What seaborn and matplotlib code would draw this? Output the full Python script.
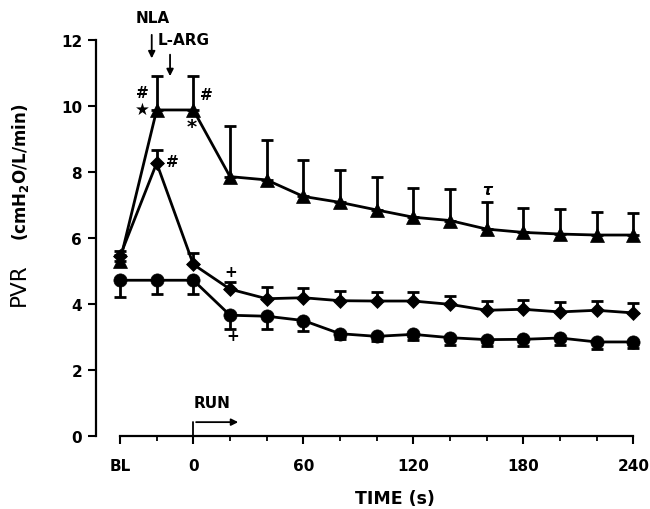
import matplotlib
matplotlib.use("Agg")
import matplotlib.pyplot as plt
import seaborn as sns
import pandas as pd

# ---- data ----
times = [-40, -20, 0, 20, 40, 60, 80, 100, 120, 140, 160, 180, 200, 220, 240]
tri = [5.30, 9.88, 9.88, 7.86, 7.76, 7.26, 7.08, 6.85, 6.63, 6.53, 6.27, 6.17, 6.12, 6.09, 6.09]
tri_err = [0.20, 1.02, 1.02, 1.52, 1.20, 1.11, 0.98, 1.01, 0.88, 0.96, 0.83, 0.75, 0.75, 0.69, 0.66]
dia = [5.45, 8.27, 5.20, 4.45, 4.16, 4.19, 4.10, 4.09, 4.09, 3.99, 3.81, 3.84, 3.76, 3.81, 3.73]
dia_err = [0.15, 0.40, 0.36, 0.22, 0.36, 0.28, 0.30, 0.28, 0.28, 0.26, 0.28, 0.27, 0.30, 0.27, 0.31]
cir = [4.72, 4.72, 4.72, 3.66, 3.63, 3.50, 3.10, 3.02, 3.08, 2.98, 2.92, 2.93, 2.97, 2.85, 2.85]
cir_err = [0.50, 0.43, 0.43, 0.43, 0.39, 0.32, 0.15, 0.15, 0.18, 0.23, 0.20, 0.20, 0.22, 0.20, 0.19]

xtick_pos = [-40, 0, 60, 120, 180, 240]
xtick_labels = ["BL", "0", "60", "120", "180", "240"]
minor_pos = [-20, 20, 40, 80, 100, 140, 160, 200, 220]
ytick_pos = [0, 2, 4, 6, 8, 10, 12]

sns.set_style("ticks")
plt.rcParams["font.family"] = ["DejaVu Sans"]
for key in ("text.color", "axes.labelcolor", "xtick.color", "ytick.color",
            "axes.edgecolor"):
    plt.rcParams[key] = "black"

fig = plt.figure(figsize=(6.5, 5.1), dpi=100)
ax = fig.add_axes([96 / 650, 73 / 510, 549 / 650, 396 / 510])

df = pd.concat([
    pd.DataFrame({"t": times, "v": tri, "e": tri_err, "g": "tri"}),
    pd.DataFrame({"t": times, "v": dia, "e": dia_err, "g": "dia"}),
    pd.DataFrame({"t": times, "v": cir, "e": cir_err, "g": "cir"}),
])

lw = 2.0
# error bars: upward for triangle/diamond, downward for circle
for g, direction in [("tri", "up"), ("dia", "up"), ("cir", "down")]:
    d = df[df.g == g]
    zeros = [0] * len(d)
    yerr = [zeros, list(d.e)] if direction == "up" else [list(d.e), zeros]
    ax.errorbar(d.t, d.v, yerr=yerr, fmt="none", ecolor="black",
                elinewidth=lw, capsize=4.4, capthick=lw, zorder=2, clip_on=False)

styles = {"tri": ("^", 10), "dia": ("D", 7.5), "cir": ("o", 9.5)}
for g, (m, ms) in styles.items():
    sns.lineplot(data=df[df.g == g], x="t", y="v", ax=ax, color="black",
                 marker=m, markersize=ms, markeredgecolor="black",
                 markeredgewidth=0.5, linewidth=lw, estimator=None, sort=False,
                 legend=False, zorder=3, clip_on=False)

ax.set_xlim(-53.1, 246.4)
ax.set_ylim(0, 12)
sns.despine(ax=ax)
ax.spines["left"].set_bounds(0, 12)
ax.spines["bottom"].set_bounds(-40, 240)
for s in ("left", "bottom"):
    ax.spines[s].set_linewidth(1.6)
    ax.spines[s].set_color("black")

ax.set_yticks(ytick_pos)
ax.set_yticklabels([str(v) for v in ytick_pos], fontsize=11, fontweight="bold")
ax.set_xticks(xtick_pos)
ax.set_xticklabels(xtick_labels, fontsize=11, fontweight="bold")
ax.set_xticks(minor_pos, minor=True)
ax.tick_params(axis="y", length=6, width=1.5, pad=4, colors="black")
ax.tick_params(axis="x", which="major", length=6, width=1.5, pad=10, colors="black")
ax.tick_params(axis="x", which="minor", length=3.6, width=1.3, colors="black")

ax.set_xlabel("TIME (s)", fontsize=12.5, fontweight="bold", color="black")
ax.xaxis.set_label_coords((395 - 96) / 549, -(490 - 437) / 396)
ax.set_ylabel("")

# y label in two parts
fig.text(19 / 650, 1 - 285 / 510, "PVR", rotation=90, fontsize=15.5,
         fontweight="medium", ha="center", va="center", color="black")
fig.text(21 / 650, 1 - 172 / 510, "(cmH$_\\mathbf{2}$O/L/min)", rotation=90,
         fontsize=12, fontweight="bold", ha="center", va="center", color="black")

# drug annotations
arrow_kw = dict(arrowstyle="-|>", color="black", lw=1.3, mutation_scale=10)
ax.annotate("", xy=(-22.7, 11.36), xytext=(-22.7, 12.24),
            arrowprops=arrow_kw, annotation_clip=False)
ax.annotate("", xy=(-12.7, 10.82), xytext=(-12.7, 11.64),
            arrowprops=arrow_kw, annotation_clip=False)
ax.text(-22.3, 12.67, "NLA", fontsize=11, fontweight="bold",
        ha="center", va="center", clip_on=False)
ax.text(-19.3, 12.03, "L-ARG", fontsize=11, fontweight="bold",
        ha="left", va="center", clip_on=False)

# RUN marker
ax.plot([0, 0], [0, 0.42], color="black", lw=1.3, clip_on=False)
ax.annotate("", xy=(26, 0.42), xytext=(0, 0.42),
            arrowprops=arrow_kw, annotation_clip=False)
ax.text(10, 1.0, "RUN", fontsize=11, fontweight="bold", ha="center", va="center")

# significance symbols (offsets in points from the data points)
i_m20 = times.index(-20)
i_0 = times.index(0)
i_20 = times.index(20)
i_160 = times.index(160)
k = 1 / 1.389
marks = [
    ("#", -20, tri[i_m20], -14 * k, 17.7 * k, {}),
    ("\u2605", -20, tri[i_m20], -14.6 * k, 1 * k, {"fontsize": 12}),
    ("#", 0, tri[i_0], 13.4 * k, 15 * k, {}),
    ("*", 0, tri[i_0], -1.6 * k, -17 * k, {"fontsize": 14}),
    ("#", -20, dia[i_m20], 15.7 * k, 1.7 * k, {}),
    ("+", 20, dia[i_20], 0.7 * k, 17.4 * k, {}),
    ("+", 20, cir[i_20], 3 * k, -20.6 * k, {}),
    ("\u03c4", 160, tri[i_160], 0, 40 * k, {"fontstyle": "italic"}),
]
for s, xv, yv, dx, dy, kw in marks:
    props = dict(fontsize=11, fontweight="bold", color="black")
    props.update(kw)
    ax.annotate(s, xy=(xv, yv), xytext=(dx, dy), textcoords="offset points",
                ha="center", va="center", annotation_clip=False, **props)

fig.savefig("out.png", dpi=100)
